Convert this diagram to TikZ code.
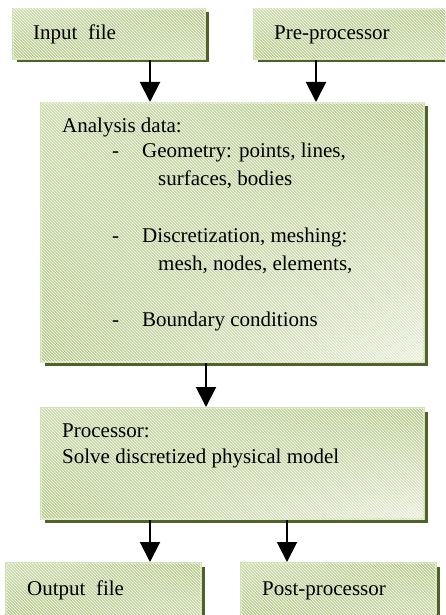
\documentclass[tikz,border=0pt]{standalone}
\usepackage{fontspec}
\setmainfont{Liberation Serif}
\usetikzlibrary{arrows.meta,shadows,patterns,shadings}
\definecolor{bborder}{HTML}{D2E1B4}
\definecolor{bshadow}{HTML}{4F6228}
\definecolor{gdark}{HTML}{B3C785}
\definecolor{gmid}{HTML}{CADAAA}
\definecolor{glight}{HTML}{E8EFDA}
\begin{document}
\begin{tikzpicture}[x=1pt,y=1pt,
  box/.style={rectangle, draw=bborder, line width=2pt, inner sep=0pt,
    drop shadow={shadow xshift=3.5pt, shadow yshift=-3.5pt, fill=bshadow, opacity=1},
    upper left=gmid, upper right=gdark, lower left=gdark, lower right=glight,
    postaction={pattern=north west lines, pattern color=white, fill opacity=0.35}},
  smallbox/.style={box, upper left=gmid, upper right=gdark, lower left=gdark, lower right=gmid},
  txt/.style={anchor=base west, inner sep=0pt, font=\fontsize{21}{25}\selectfont},
  arr/.style={line width=2pt, -{Triangle[width=20pt,length=20pt]}}]
\clip (0,0) rectangle (445,-615);
\node[smallbox, minimum width=192pt, minimum height=50pt] (inp) at (109,-34) {};
\node[smallbox, minimum width=192pt, minimum height=50pt] (pre) at (350,-34) {};
\node[box, minimum width=383pt, minimum height=259pt] (ana) at (232.5,-232.5) {};
\node[box, minimum width=383pt, minimum height=111pt] (proc) at (232.5,-463.5) {};
\node[smallbox, minimum width=195pt, minimum height=53pt] (out) at (103.5,-589.5) {};
\node[smallbox, minimum width=195pt, minimum height=53pt] (post) at (338.5,-589.5) {};

\node[txt] (tinp) at (33,-40) {Input\ \ file};
\node[txt] (tpre) at (274,-40) {Pre-processor};
\node[txt] (ta0) at (62,-132) {Analysis data:};
\node[txt] (td1) at (112,-157) {-};
\node[txt] (ta1) at (142,-157) {Geometry: points, lines,};
\node[txt] (ta2) at (158,-185) {surfaces, bodies};
\node[txt] (td2) at (112,-242) {-};
\node[txt] (ta3) at (142,-242) {Discretization, meshing:};
\node[txt] (ta4) at (158,-270) {mesh, nodes, elements,};
\node[txt] (td3) at (112,-326) {-};
\node[txt] (ta5) at (142,-326) {Boundary conditions};
\node[txt] (tp0) at (62,-437) {Processor:};
\node[txt] (tp1) at (62,-463) {Solve discretized physical model};
\node[txt] (tout) at (27,-595) {Output\ \ file};
\node[txt] (tpost) at (262,-595) {Post-processor};

\coordinate (xa) at (150,0);
\coordinate (xb) at (316,0);
\coordinate (xc) at (206,0);
\coordinate (xd) at (287,0);
\draw[arr] (inp.south -| xa) -- (ana.north -| xa);
\draw[arr] (pre.south -| xb) -- (ana.north -| xb);
\draw[arr] (ana.south -| xc) -- (proc.north -| xc);
\draw[arr] (proc.south -| xa) -- (out.north -| xa);
\draw[arr] (proc.south -| xd) -- (post.north -| xd);
\end{tikzpicture}
\end{document}
